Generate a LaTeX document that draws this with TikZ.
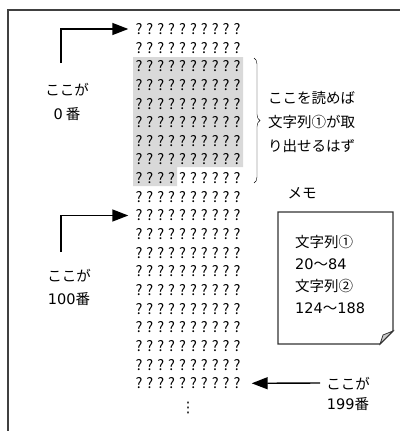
\documentclass[tikz,border=0pt]{standalone}
\usepackage{fontspec}
\setmainfont{Noto Sans CJK JP}
\newfontfamily\numfont{DejaVu Sans}
\usetikzlibrary{arrows.meta}
\usetikzlibrary{decorations.pathreplacing}
\tikzset{
    frameline/.style={line width=1.6pt,black!75},
    pointer/.style={line width=1.4pt,-{Triangle[length=16pt,width=12pt]}},
    qrow/.style={inner sep=0pt,font=\fontsize{14.5}{14.5}\selectfont},
    note/.style={inner sep=0pt,align=center,font=\fontsize{14.5}{24}\selectfont},
    marked/.style={fill=gray!30,draw=none},
}
\newcommand{\qmark}{\makebox[10.9pt]{?}}
\newcommand{\qrowtext}{\qmark\qmark\qmark\qmark\qmark\qmark\qmark\qmark\qmark\qmark}
\newcommand{\nm}[1]{{\numfont #1}}

\begin{document}
\begin{tikzpicture}[x=1pt,y=-1pt]
    \useasboundingbox (0,0) rectangle (400,431);
    \draw[frameline] (8,431) -- (8,10) -- (400,10);

    % range that holds string 1
    \fill[marked] (133,57) -- (243,57) -- (243,167) -- (177,167)
        -- (177,186) -- (133,186) -- cycle;

    \foreach \k in {0,...,19}
        \node[qrow] (r\k) at (188,29+18.65*\k) {\qrowtext};
    \node[qrow] (dots) at (188,408) {\numfont ⋮};

    \node[note] (n0) at (67,102) {ここが\\\nm{0} 番};
    \node[note,font=\fontsize{14.5}{23}\selectfont] (n100) at (69,287) {ここが\\\nm{100}番};
    \node[note,font=\fontsize{14.5}{20}\selectfont] (n199) at (348,394) {ここが\\\nm{199}番};

    \coordinate (a0) at (61,63);
    \coordinate (a100) at (61,252);
    \coordinate (a199) at (320,383);
    \draw[pointer,shorten >=5pt] (a0) |- (r0.west);
    \draw[pointer,shorten >=5pt] (a100) |- (r10.west);
    \draw[pointer,shorten >=9pt] (a199) -- (r19.east);

    \draw[thin,decorate,decoration={brace,amplitude=6pt}] (254,58) -- (254,183);
    \node[note,anchor=west,align=left] (hint) at (268,122)
        {ここを読めば\\文字列①が取\\り出せるはず};

    % memo sheet
    \node[note] (memotitle) at (302,193) {メモ};
    \draw[line width=1.2pt,black!80] (278,212) -- (393,212) -- (393,331)
        -- (380,344) -- (278,344) -- cycle;
    \filldraw[line width=0.8pt,draw=black!80,fill=gray!40] (393,331) -- (383,335)
        -- (380,344) -- cycle;
    \node[note,anchor=west,align=left,font=\fontsize{14.5}{21.7}\selectfont] (memo)
        at (295,274.5) {文字列①\\\nm{20}〜\nm{84}\\文字列②\\\nm{124}〜\nm{188}};
\end{tikzpicture}
\end{document}
